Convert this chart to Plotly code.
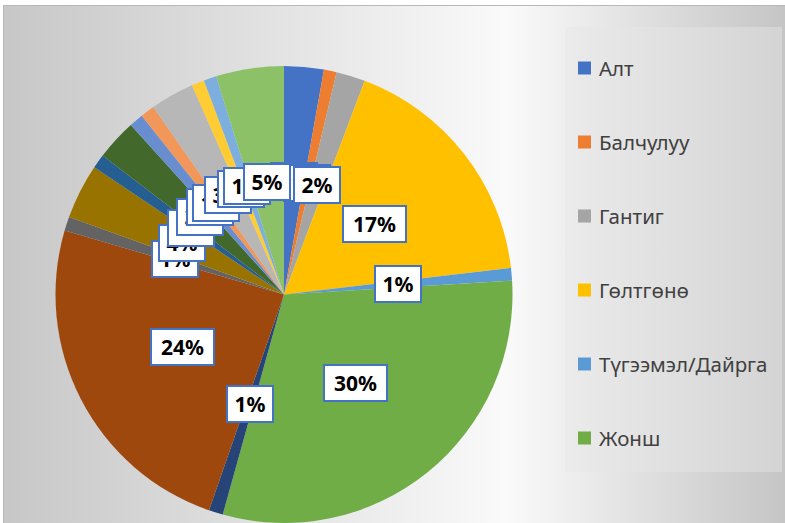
import math
import plotly.graph_objects as go

# Legend categories (only the first six are listed in the legend)
minerals = ["Алт", "Балчулуу", "Гантиг", "Гөлтгөнө", "Түгээмэл/Дайрга", "Жонш"]

# Share of each slice, clockwise from 12 o'clock (percent)
shares = [2.8, 0.9, 2.05, 17.4, 0.9, 30.3, 1.0, 24.2, 1.0, 3.9,
          1.0, 2.9, 1.0, 1.0, 3.1, 0.9, 0.9, 4.8]

# Office-style slice palette
slice_colors = ["#4472C4", "#ED7D31", "#A5A5A5", "#FFC000", "#5B9BD5", "#70AD47",
                "#264478", "#9E480E", "#636363", "#997300", "#255E91", "#43682B",
                "#698ED0", "#F1975A", "#B7B7B7", "#FFCD33", "#7CAFDD", "#8CC168"]

W, H = 785, 523
# pie placement in pixels
PCX, PR = 284.0, 228.5
PTOP = 66.0
PCY = PTOP + PR

fig = go.Figure()

# chart-area background with soft gradient
fig.add_trace(go.Scatter(
    x=[3, 790, 790, 3, 3], y=[5, 5, 530, 530, 5],
    fill="toself", mode="none", hoverinfo="skip", showlegend=False,
    fillgradient=dict(type="horizontal",
                      colorscale=[[0, "#c7c7c7"], [0.64, "#fafafa"], [1, "#c4c4c4"]]),
))
# legend panel
fig.add_trace(go.Scatter(
    x=[565, 782, 782, 565, 565], y=[27, 27, 472, 472, 27],
    fill="toself", mode="none", hoverinfo="skip", showlegend=False,
    fillgradient=dict(type="horizontal",
                      colorscale=[[0, "#ebebeb"], [1, "#d4d4d4"]]),
))

fig.add_trace(go.Pie(
    values=shares,
    marker=dict(colors=slice_colors, line=dict(width=0)),
    sort=False, direction="clockwise", rotation=0,
    textinfo="none", hoverinfo="percent", showlegend=False,
    domain=dict(x=[(PCX - PR) / W, (PCX + PR) / W], y=[0, 1 - PTOP / H]),
))

annotations = []
shapes = []

# percentage labels at half radius, along each slice's mid angle
total = sum(shares)
cum = 0.0
for v in shares:
    mid = (cum + v / 2) / total * 2 * math.pi
    cum += v
    pct = int(v / total * 100 + 0.5)
    txt = f"{pct}%"
    lx = PCX + 0.5 * PR * math.sin(mid)
    ly = PCY - 0.5 * PR * math.cos(mid)
    annotations.append(dict(
        x=lx, y=ly, xref="x", yref="y", text=f"<b>{txt}</b>", showarrow=False,
        font=dict(family="Noto Sans", size=21, color="#000000"),
        bgcolor="#ffffff", bordercolor="#4472C4", borderwidth=2, borderpad=5,
        width=17 * len(txt), height=24, xanchor="center", yanchor="middle",
    ))

# legend entries
legend_y = [68, 142, 216, 290, 364, 438]
for name, col, yy in zip(minerals, slice_colors, legend_y):
    shapes.append(dict(type="rect", xref="x", yref="y", x0=578, x1=591,
                       y0=yy - 6.5, y1=yy + 6.5, fillcolor=col,
                       line=dict(width=0), layer="above"))
    annotations.append(dict(
        x=597, y=yy, xref="x", yref="y", text=name, showarrow=False,
        xanchor="left", yanchor="middle",
        font=dict(family="Noto Sans", size=20.5, color="#404040"),
    ))

# outer chart frame
shapes.append(dict(type="rect", xref="x", yref="y", x0=3.5, y0=5.5, x1=792, y1=532,
                   line=dict(color="#b8b8b8", width=1), fillcolor="rgba(0,0,0,0)",
                   layer="above"))

fig.update_layout(
    width=W, height=H,
    margin=dict(l=0, r=0, t=0, b=0),
    paper_bgcolor="#ffffff", plot_bgcolor="rgba(0,0,0,0)",
    xaxis=dict(range=[0, W], visible=False, fixedrange=True),
    yaxis=dict(range=[H, 0], visible=False, fixedrange=True),
    annotations=annotations, shapes=shapes, showlegend=False,
)

fig.write_html("out.html")
